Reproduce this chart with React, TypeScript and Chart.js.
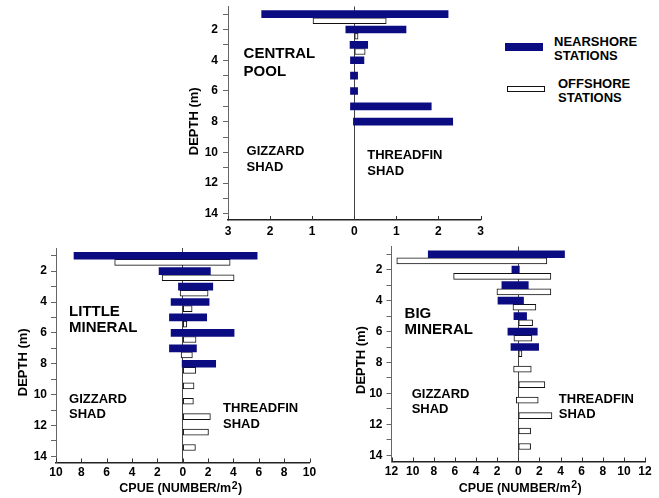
import React, { useEffect, useRef } from 'react';
import { Chart, registerables } from 'chart.js';

Chart.register(...registerables);

const FONT = '"Liberation Sans", Arial, Helvetica, sans-serif';
const NAVY = '#0c0c82';

// ---- shared axis data ----
const DEPTH_TICKS = [1, 2, 3, 4, 5, 6, 7, 8, 9, 10, 11, 12, 13, 14];
const DEPTH_LABELS = ['', '2', '', '4', '', '6', '', '8', '', '10', '', '12', '', '14'];
const DEPTH_MIN = 0.5;
const DEPTH_MAX = 14.4;
const OFFSHORE_SHIFT = 0.43; // offshore bar drawn just below the nearshore bar of the same depth

// ---- Central Pool ----
const CP_X_TICKS = [-3, -2, -1, 0, 1, 2, 3];
const CP_NEAR_DEPTH = [1, 2, 3, 4, 5, 6, 7, 8];
const CP_NEAR_GIZZARD = [2.2, 0.2, 0.1, 0.09, 0.09, 0.09, 0.09, 0.02];
const CP_NEAR_THREADFIN = [2.23, 1.23, 0.32, 0.23, 0.08, 0.08, 1.83, 2.34];
const CP_OFF_DEPTH = [1, 2, 3];
const CP_OFF_GIZZARD = [0.98, 0, 0];
const CP_OFF_THREADFIN = [0.76, 0.09, 0.26];

// ---- Little Mineral ----
const LM_X_TICKS = [-10, -8, -6, -4, -2, 0, 2, 4, 6, 8, 10];
const LM_NEAR_DEPTH = [1, 2, 3, 4, 5, 6, 7, 8];
const LM_NEAR_GIZZARD = [8.58, 1.87, 0.34, 0.92, 1.05, 0.92, 1.05, 0.05];
const LM_NEAR_THREADFIN = [5.87, 2.18, 2.37, 2.08, 1.89, 4.05, 1.08, 2.6];
const LM_OFF_DEPTH = [1, 2, 3, 4, 5, 6, 7, 8, 9, 10, 11, 12, 13];
const LM_OFF_GIZZARD = [5.37, 1.63, 0.21, 0, 0, 0, 0.13, 0, 0, 0, 0, 0, 0];
const LM_OFF_THREADFIN = [3.74, 4.05, 2.0, 0.74, 0.32, 1.05, 0.76, 1.03, 0.89, 0.84, 2.18, 2.03, 1.0];

// ---- Big Mineral ----
const BM_X_TICKS = [-12, -10, -8, -6, -4, -2, 0, 2, 4, 6, 8, 10, 12];
const BM_NEAR_DEPTH = [1, 2, 3, 4, 5, 6, 7];
const BM_NEAR_GIZZARD = [8.52, 0.6, 1.55, 1.92, 0.41, 0.98, 0.69];
const BM_NEAR_THREADFIN = [4.38, 0.1, 0.95, 0.5, 0.79, 1.8, 1.93];
const BM_OFF_DEPTH = [1, 2, 3, 4, 5, 6, 7, 8, 9, 10, 11, 12, 13];
const BM_OFF_GIZZARD = [11.5, 6.12, 2.02, 0.5, 0, 0.41, 0, 0.44, 0, 0.19, 0, 0, 0];
const BM_OFF_THREADFIN = [2.71, 3.09, 3.09, 1.67, 1.36, 1.29, 0.35, 1.23, 2.52, 1.89, 3.19, 1.17, 1.17];

type Note = { lines: string[]; x: number; y: number; size: number; gap: number };
type PanelSpec = {
  box: { left: number; top: number; w: number; h: number };
  plot: { l: number; t: number; r: number; b: number };
  xMin: number;
  xMax: number;
  xTicks: number[];
  near: { depth: number[]; giz: number[]; thr: number[] };
  off: { depth: number[]; giz: number[]; thr: number[] };
  notes: Note[];
  yTitle: { dx: number; dy: number };
  xTitle: { dx: number; dy: number } | null;
  tickPad: number;
  xLabelPad: number;
};

const PANELS: PanelSpec[] = [
  {
    box: { left: 185, top: 0, w: 305, h: 240 },
    plot: { l: 228, t: 6.5, r: 480.5, b: 220 },
    xMin: -3,
    xMax: 3,
    xTicks: CP_X_TICKS,
    near: { depth: CP_NEAR_DEPTH, giz: CP_NEAR_GIZZARD, thr: CP_NEAR_THREADFIN },
    off: { depth: CP_OFF_DEPTH, giz: CP_OFF_GIZZARD, thr: CP_OFF_THREADFIN },
    notes: [
      { lines: ['CENTRAL', 'POOL'], x: -2.63, y: 3.87, size: 15, gap: 17.3 },
      { lines: ['GIZZARD', 'SHAD'], x: -2.56, y: 10.17, size: 13, gap: 15.6 },
      { lines: ['THREADFIN', 'SHAD'], x: 0.31, y: 10.45, size: 13, gap: 15.7 },
    ],
    yTitle: { dx: 34, dy: 8 },
    xTitle: null,
    tickPad: 5,
    xLabelPad: 4,
  },
  {
    box: { left: 8, top: 240, w: 310, h: 258 },
    plot: { l: 56, t: 248, r: 309.5, b: 462.5 },
    xMin: -10,
    xMax: 10,
    xTicks: LM_X_TICKS,
    near: { depth: LM_NEAR_DEPTH, giz: LM_NEAR_GIZZARD, thr: LM_NEAR_THREADFIN },
    off: { depth: LM_OFF_DEPTH, giz: LM_OFF_GIZZARD, thr: LM_OFF_THREADFIN },
    notes: [
      { lines: ['LITTLE', 'MINERAL'], x: -8.97, y: 4.89, size: 15, gap: 16.7 },
      { lines: ['GIZZARD', 'SHAD'], x: -8.97, y: 10.53, size: 13, gap: 15.7 },
      { lines: ['THREADFIN', 'SHAD'], x: 3.18, y: 11.11, size: 13, gap: 16 },
    ],
    yTitle: { dx: 33, dy: 7 },
    xTitle: { dx: -2, dy: 29.5 },
    tickPad: 4,
    xLabelPad: 3,
  },
  {
    box: { left: 345, top: 240, w: 310, h: 258 },
    plot: { l: 391.5, t: 246.5, r: 645, b: 461.5 },
    xMin: -12,
    xMax: 12,
    xTicks: BM_X_TICKS,
    near: { depth: BM_NEAR_DEPTH, giz: BM_NEAR_GIZZARD, thr: BM_NEAR_THREADFIN },
    off: { depth: BM_OFF_DEPTH, giz: BM_OFF_GIZZARD, thr: BM_OFF_THREADFIN },
    notes: [
      { lines: ['BIG', 'MINERAL'], x: -10.76, y: 5.11, size: 15, gap: 16.6 },
      { lines: ['GIZZARD', 'SHAD'], x: -10.09, y: 10.27, size: 13, gap: 15.6 },
      { lines: ['THREADFIN', 'SHAD'], x: 3.84, y: 10.6, size: 13, gap: 15.6 },
    ],
    yTitle: { dx: 30.5, dy: 6 },
    xTitle: { dx: 2, dy: 30 },
    tickPad: 4,
    xLabelPad: 3,
  },
];

function Panel({ p }: { p: PanelSpec }) {
  const ref = useRef<HTMLCanvasElement>(null);
  useEffect(() => {
    const c = ref.current!;
    const yW = p.plot.l - p.box.left;
    const xH = p.box.top + p.box.h - p.plot.b;
    const padTop = p.plot.t - p.box.top;
    const padRight = p.box.left + p.box.w - p.plot.r;

    const decor = {
      id: 'panelDecor',
      afterDraw(chart: any) {
        const ctx = chart.ctx as CanvasRenderingContext2D;
        const xs = chart.scales.x;
        const ys = chart.scales.y;
        const a = chart.chartArea;
        ctx.save();
        // inward tick marks on the x axis
        ctx.strokeStyle = '#333';
        ctx.lineWidth = 1;
        for (const v of p.xTicks) {
          const px = Math.round(xs.getPixelForValue(v)) + 0.5;
          ctx.beginPath();
          ctx.moveTo(px, a.bottom);
          ctx.lineTo(px, a.bottom - 4);
          ctx.stroke();
        }
        // annotations
        ctx.fillStyle = '#000';
        ctx.textAlign = 'left';
        ctx.textBaseline = 'alphabetic';
        for (const n of p.notes) {
          ctx.font = `bold ${n.size}px ${FONT}`;
          const x = xs.getPixelForValue(n.x);
          const y = ys.getPixelForValue(n.y);
          n.lines.forEach((ln, i) => ctx.fillText(ln, x, y + i * n.gap));
        }
        // y title
        ctx.save();
        ctx.font = `bold 13px ${FONT}`;
        ctx.translate(a.left - p.yTitle.dx, (a.top + a.bottom) / 2 + p.yTitle.dy);
        ctx.rotate(-Math.PI / 2);
        ctx.textAlign = 'center';
        ctx.textBaseline = 'middle';
        ctx.fillText('DEPTH (m)', 0, 0);
        ctx.restore();
        // x title with superscript
        if (p.xTitle) {
          const main = 'CPUE (NUMBER/m';
          ctx.font = `bold 12.5px ${FONT}`;
          const w1 = ctx.measureText(main).width;
          const w3 = ctx.measureText(')').width;
          ctx.font = `bold 10.5px ${FONT}`;
          const w2 = ctx.measureText('2').width;
          const cx = xs.getPixelForValue(0) + p.xTitle.dx;
          const base = a.bottom + p.xTitle.dy;
          let x = cx - (w1 + w2 + w3 + 1) / 2;
          ctx.textAlign = 'left';
          ctx.font = `bold 12.5px ${FONT}`;
          ctx.fillText(main, x, base);
          x += w1 + 0.5;
          ctx.font = `bold 10.5px ${FONT}`;
          ctx.fillText('2', x, base - 3.5);
          x += w2 + 0.5;
          ctx.font = `bold 12.5px ${FONT}`;
          ctx.fillText(')', x, base);
        }
        ctx.restore();
      },
    };

    const chart = new Chart(c, {
      type: 'bar',
      data: {
        datasets: [
          {
            label: 'NEARSHORE STATIONS',
            data: p.near.depth.map((d, i) => ({ y: d, x: [-p.near.giz[i], p.near.thr[i]] })) as any,
            backgroundColor: NAVY,
            borderWidth: 0,
            barThickness: 7,
            grouped: false,
          },
          {
            label: 'OFFSHORE STATIONS',
            data: p.off.depth.map((d, i) => ({ y: d + OFFSHORE_SHIFT, x: [-p.off.giz[i], p.off.thr[i]] })) as any,
            backgroundColor: '#ffffff',
            borderColor: '#111111',
            borderWidth: 1,
            borderSkipped: false,
            barThickness: 6,
            grouped: false,
          },
        ],
      },
      options: {
        indexAxis: 'y',
        responsive: false,
        animation: false,
        devicePixelRatio: 1,
        layout: { padding: { top: padTop, right: padRight, left: 0, bottom: 0 } },
        plugins: { legend: { display: false }, tooltip: { enabled: false } },
        scales: {
          x: {
            type: 'linear',
            min: p.xMin,
            max: p.xMax,
            afterBuildTicks: (s: any) => {
              s.ticks = p.xTicks.map((v) => ({ value: v }));
            },
            afterFit: (s: any) => {
              s.height = xH;
              s.paddingLeft = 0;
              s.paddingRight = 0;
            },
            ticks: {
              autoSkip: false,
              maxRotation: 0,
              padding: p.xLabelPad,
              color: '#000',
              font: { family: FONT, size: 12, weight: 'bold' },
              callback: (v: any) => String(Math.abs(Number(v))),
            },
            grid: {
              drawTicks: false,
              color: (ctx: any) => (ctx.tick && ctx.tick.value === 0 ? '#444' : 'rgba(0,0,0,0)'),
              lineWidth: 1,
            },
            border: { color: '#222', width: 1.5 },
          },
          y: {
            type: 'linear',
            reverse: true,
            min: DEPTH_MIN,
            max: DEPTH_MAX,
            offset: false,
            afterBuildTicks: (s: any) => {
              s.ticks = DEPTH_TICKS.map((v) => ({ value: v }));
            },
            afterFit: (s: any) => {
              s.width = yW;
              s.paddingTop = 0;
              s.paddingBottom = 0;
            },
            ticks: {
              autoSkip: false,
              padding: p.tickPad,
              color: '#000',
              font: { family: FONT, size: 12, weight: 'bold' },
              callback: (_v: any, i: number) => DEPTH_LABELS[i],
            },
            grid: {
              offset: false,
              drawOnChartArea: false,
              drawTicks: true,
              tickLength: 5,
              color: '#666',
            },
            border: { color: '#666', width: 1 },
          },
        },
      } as any,
      plugins: [decor],
    });
    return () => chart.destroy();
  }, [p]);
  return (
    <canvas
      ref={ref}
      width={p.box.w}
      height={p.box.h}
      style={{ position: 'absolute', left: p.box.left, top: p.box.top, width: p.box.w, height: p.box.h }}
    />
  );
}

export default function App() {
  const txt: React.CSSProperties = {
    position: 'absolute',
    font: `bold 13px ${FONT}`,
    color: '#000',
    whiteSpace: 'nowrap',
  };
  return (
    <div style={{ position: 'absolute', left: 0, top: 0, width: 659, height: 498, background: '#fff', overflow: 'hidden' }}>
      {PANELS.map((p, i) => (
        <Panel key={i} p={p} />
      ))}
      <div style={{ position: 'absolute', left: 505, top: 43, width: 38, height: 8, background: NAVY }} />
      <div style={{ ...txt, left: 554, top: 35, lineHeight: '13.5px' }}>
        NEARSHORE
        <br />
        STATIONS
      </div>
      <div
        style={{
          position: 'absolute',
          left: 507,
          top: 86,
          width: 38,
          height: 6,
          border: '1px solid #111',
          boxSizing: 'border-box',
          background: '#fff',
        }}
      />
      <div style={{ ...txt, left: 558, top: 77, lineHeight: '14px' }}>
        OFFSHORE
        <br />
        STATIONS
      </div>
    </div>
  );
}
